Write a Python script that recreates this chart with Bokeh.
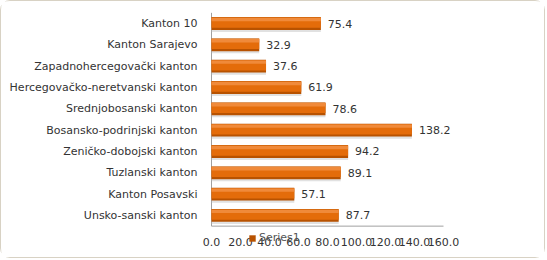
from bokeh.plotting import figure
from bokeh.models import ColumnDataSource, Range1d, Legend, LegendItem
from bokeh.core.properties import value
from bokeh.embed import file_html
from bokeh.resources import INLINE

categories = ["Kanton 10", "Kanton Sarajevo", "Zapadnohercegovački kanton",
              "Hercegovačko-neretvanski kanton", "Srednjobosanski kanton",
              "Bosansko-podrinjski kanton", "Zeničko-dobojski kanton",
              "Tuzlanski kanton", "Kanton Posavski", "Unsko-sanski kanton"]
values = [75.4, 32.9, 37.6, 61.9, 78.6, 138.2, 94.2, 89.1, 57.1, 87.7]
labels = ["%.1f" % v for v in values]
ticks = [0, 20, 40, 60, 80, 100, 120, 140, 160]
tick_labels = ["%.1f" % t for t in ticks]
series_name = "Series1"

n = len(categories)
rows = [n - 1 - i for i in range(n)]
src = ColumnDataSource(dict(row=rows, val=values, lab=labels, cat=categories,
                            zero=[0] * n,
                            shadow=[r - 0.1 for r in rows],
                            mid=[r + 0.04 for r in rows],
                            hi=[r + 0.19 for r in rows]))

W, H = 545, 258
X0 = 210                     # canvas x of value 0
PXU = 232 / 160.0            # pixels per value unit
PXR = 21.33                  # pixels per row
TOP_ROW_Y = 22               # canvas y of first row centre
p = figure(width=W, height=H,
           x_range=Range1d(-X0 / PXU, (W - X0) / PXU),
           y_range=Range1d((n - 1) - (H - TOP_ROW_Y) / PXR, (n - 1) + TOP_ROW_Y / PXR),
           output_backend="svg", toolbar_location=None,
           min_border_left=0, min_border_right=0, min_border_top=0, min_border_bottom=0)
p.styles = {"border": "1px solid #d8d2c4", "border-radius": "10px"}
p.background_fill_color = "white"
p.border_fill_color = "white"
p.outline_line_color = None
p.grid.visible = False
p.axis.visible = False

# category labels
p.text(x="zero", y="row", text="cat", source=src, x_offset=-14, text_align="right",
       text_baseline="middle", text_font=value("DejaVu Sans"), text_font_size="11px",
       text_color="#333333")

# axis lines
p.segment(x0=[0, 0], y0=[-0.5, -0.5], x1=[0, ticks[-1]], y1=[n - 0.5, -0.5],
          line_color="#a0a0a0", line_width=1)

# shadow
p.hbar(y="shadow", left=0, right="val", height=0.6, source=src,
       fill_color="#bdbdbd", fill_alpha=0.45, line_color=None)
# bars
bar = p.hbar(y="row", left=0, right="val", height=0.6, source=src,
             fill_color="#B85200", line_color=None)
p.hbar(y="mid", left=0, right="val", height=0.48, source=src,
       fill_color="#E46C0A", line_color=None)
p.hbar(y="hi", left=0, right="val", height=0.16, source=src,
       fill_color="#F08A3A", line_color=None)

# value labels
p.text(x="val", y="row", text="lab", source=src, x_offset=7, text_baseline="middle",
       text_font=value("DejaVu Sans"), text_font_size="11px", text_color="#333333")

# x tick labels
p.text(x=ticks, y=[-0.5] * len(ticks), text=tick_labels, y_offset=16,
       text_align="center", text_baseline="middle",
       text_font=value("DejaVu Sans"), text_font_size="11px", text_color="#333333")

legend = Legend(items=[LegendItem(label=series_name, renderers=[bar])],
                location=(X0 + 37, 15), background_fill_alpha=0, border_line_color=None,
                label_text_font="DejaVu Sans", label_text_font_size="11px",
                label_text_color="#555555", glyph_width=8, glyph_height=8,
                padding=0, margin=0, label_standoff=3, label_height=11)
p.add_layout(legend, "center")

open("out.html", "w").write(file_html(p, INLINE))
